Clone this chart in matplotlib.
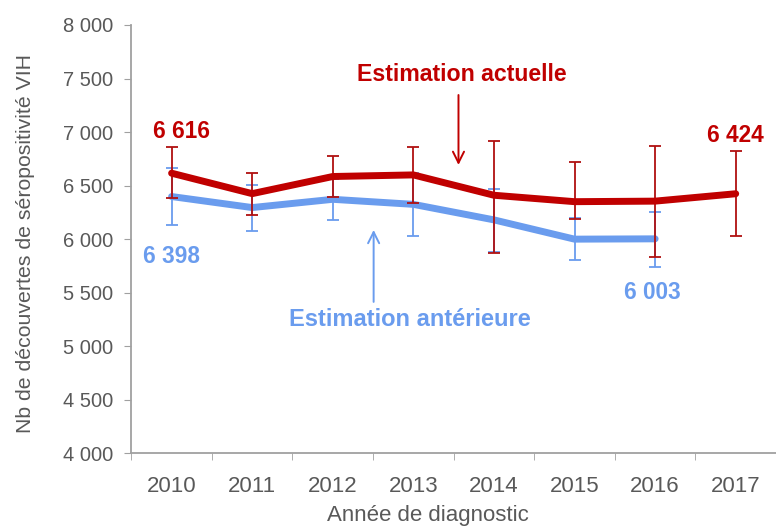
import numpy as np
import matplotlib.pyplot as plt

plt.rcParams['font.family'] = ['Liberation Sans', 'DejaVu Sans']

# Données
years = ["2010", "2011", "2012", "2013", "2014", "2015", "2016", "2017"]
actuelle = [6616, 6425, 6585, 6600, 6410, 6350, 6355, 6424]
actuelle_haut = [6865, 6622, 6778, 6860, 6920, 6722, 6868, 6825]
actuelle_bas = [6380, 6230, 6390, 6335, 5875, 6190, 5835, 6027]
anterieure = [6398, 6295, 6372, 6325, 6180, 6000, 6003]
anterieure_haut = [6666, 6505, 6560, 6615, 6473, 6195, 6255]
anterieure_bas = [6130, 6077, 6183, 6031, 5881, 5803, 5744]

red = "#C00000"
blue = "#6A9CEE"
gray = "#595959"

fig = plt.figure(figsize=(7.76, 5.27), dpi=100)
ax = fig.add_axes([0.1692, 0.1398, 0.8308, 0.8128])

x_act = np.arange(len(actuelle))
x_ant = np.arange(len(anterieure))

err_ant = [np.array(anterieure) - np.array(anterieure_bas),
           np.array(anterieure_haut) - np.array(anterieure)]
err_act = [np.array(actuelle) - np.array(actuelle_bas),
           np.array(actuelle_haut) - np.array(actuelle)]

ax.plot(x_ant, anterieure, color=blue, lw=5, solid_capstyle="round", zorder=2)
ax.errorbar(x_ant, anterieure, yerr=err_ant, fmt="none", ecolor=blue,
            elinewidth=1.3, capsize=4, capthick=1.3, zorder=3)
ax.errorbar(x_act, actuelle, yerr=err_act, fmt="none", ecolor="#B01010",
            elinewidth=1.3, capsize=4, capthick=1.3, zorder=4)
ax.plot(x_act, actuelle, color=red, lw=5, solid_capstyle="round", zorder=5)

ax.set_xlim(-0.5, 7.36)
ax.set_ylim(4000, 8000)
ax.set_yticks(np.arange(4000, 8001, 500))
ax.set_yticklabels([f"{v:,}".replace(",", " ") for v in range(4000, 8001, 500)])
ax.set_xticks(x_act)
ax.set_xticklabels(years)
ax.set_xticks(np.arange(-0.5, 7.6, 1), minor=True)

ax.tick_params(axis="x", which="major", length=0, pad=16, labelsize=16, labelcolor=gray)
ax.tick_params(axis="x", which="minor", length=5, color="#A0A0A0", direction="out")
ax.tick_params(axis="y", length=5, color="#A0A0A0", pad=8, labelsize=14.5, labelcolor=gray)

for s in ["top", "right"]:
    ax.spines[s].set_visible(False)
for s in ["left", "bottom"]:
    ax.spines[s].set_color("#A0A0A0")
    ax.spines[s].set_linewidth(1.3)

fig.text(428 / 776, 1 - 521 / 527, "Année de diagnostic", ha="center", va="baseline",
         fontsize=16, color=gray)
fig.text(26 / 776, 1 - 243 / 527, "Nb de découvertes de séropositivité VIH",
         rotation=90, ha="center", va="center", fontsize=15.3, color=gray)

# Étiquettes de valeurs
lab = dict(ha="center", va="center", fontsize=16.3, fontweight="bold")
ax.text(0.12, 7001, "6 616", color=red, **lab)
ax.text(7.0, 6964, "6 424", color=red, **lab)
ax.text(0.0, 5834, "6 398", color=blue, **lab)
ax.text(5.97, 5498, "6 003", color=blue, **lab)

# Légendes fléchées
ax.annotate("", xy=(3.56, 6693), xytext=(3.56, 7346),
            arrowprops=dict(arrowstyle="->", color=red, lw=1.4, mutation_scale=20,
                            shrinkA=0, shrinkB=0))
ax.text(3.606, 7533, "Estimation actuelle", color=red, ha="center", va="center",
        fontsize=16.7, fontweight="bold")
ax.annotate("", xy=(2.507, 6086), xytext=(2.507, 5414),
            arrowprops=dict(arrowstyle="->", color=blue, lw=1.4, mutation_scale=20,
                            shrinkA=0, shrinkB=0))
ax.text(2.96, 5246, "Estimation antérieure", color=blue, ha="center", va="center",
        fontsize=17, fontweight="bold")

fig.savefig("out.png", dpi=100)
